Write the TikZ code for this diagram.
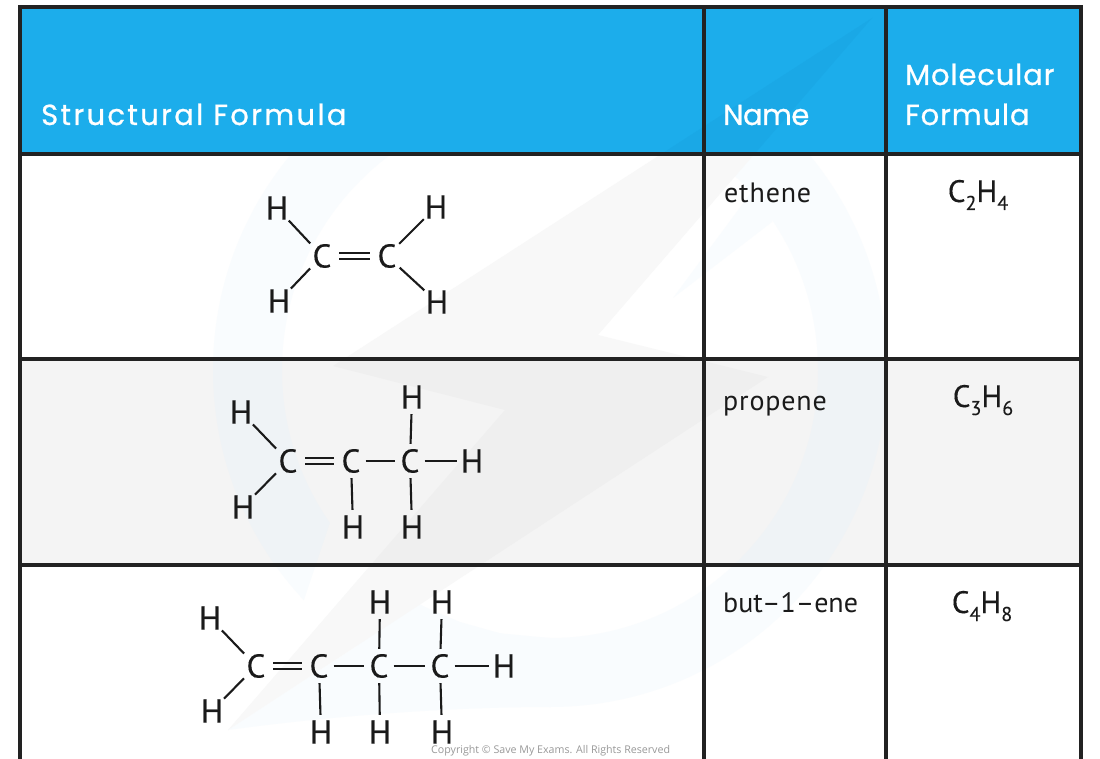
\documentclass[tikz,border=0pt]{standalone}
\usepackage{fontspec}
\setmainfont[FakeBold=0.25]{PT Sans}
\newfontfamily\hdfont[LetterSpace=3,FakeBold=0.8]{Poppins}
\newfontfamily\hdwide[LetterSpace=8,FakeBold=0.8]{Poppins}
\newfontfamily\hdtight[LetterSpace=-2,FakeBold=0.8]{Poppins}
\newfontfamily\bodyfont[LetterSpace=3]{PT Sans}
\newfontfamily\bodytight[LetterSpace=0]{PT Sans}
\newfontfamily\copyfont{Open Sans}
\definecolor{hdblue}{HTML}{1CADEB}
\definecolor{hdblueb}{HTML}{1AA8E6}
\definecolor{rule}{HTML}{222222}
\definecolor{rowgrey}{HTML}{F4F4F4}
\definecolor{wmring}{HTML}{F9FCFE}
\definecolor{wmringb}{HTML}{EFF3F6}
\definecolor{wmstar}{HTML}{F8F8F8}
\definecolor{wmstarb}{HTML}{EFEFEF}
\definecolor{inktext}{HTML}{1A1A1A}
\newcommand{\subnum}[1]{\raisebox{-8pt}{\fontsize{20}{20}\selectfont #1}}
\newcommand{\starpath}{(872,18) -- (598,335) -- (768,377) -- (228,730) -- (505,410) -- (333,366) -- cycle}
\newcommand{\ringpath}{(550,370) circle[radius=337] (550,370) circle[radius=268]}
\newcommand{\gappath}{(330,523) -- (303,603) -- (200,660) -- (228,730) -- (505,410) -- cycle}
\newcommand{\swooshpath}{(228,730) .. controls (330,716) and (450,707) .. (550,707) -- (550,638) -- (500,633.3) -- (460,622) -- (420,605) -- cycle}
\newcommand{\wedgepath}{(673,298) -- (772,222) -- (790,140) -- cycle}
\tikzset{
 x=1pt,y=-1pt,
 atom/.style={circle,inner sep=0pt,minimum size=34pt,font=\fontsize{33}{33}\selectfont,text=inktext},
 bond/.style={line width=2.1pt,draw=inktext},
 ccbond/.style={bond,shorten <=-2.5pt,shorten >=-2.5pt},
 dbl/.style={bond,transform canvas={yshift=#1}},
 grid/.style={line width=3.6pt,draw=rule},
 head/.style={anchor=base west,inner sep=0pt,text=white,font=\fontsize{29}{29}\selectfont},
 cellname/.style={anchor=base west,inner sep=0pt,text=inktext,font=\fontsize{28}{28}\selectfont},
 formula/.style={anchor=base,inner sep=0pt,text=inktext,font=\fontsize{31}{31}\selectfont},
}
\begin{document}
\begin{tikzpicture}
\useasboundingbox (0,0) rectangle (1100,759);
\fill[white] (0,0) rectangle (1100,759);
% backgrounds
\fill[rowgrey] (20,359) rectangle (1081,565);
\fill[hdblue] (20,7) rectangle (1081,154);
% watermark on white rows
\begin{scope}
\clip (20,154) rectangle (1081,759);
\fill[wmring,even odd rule] \ringpath;
\fill[white] \gappath;
\fill[wmring] \swooshpath;
\fill[wmring] \wedgepath;
\fill[wmstar] \starpath;
\end{scope}
% watermark on grey row
\begin{scope}
\clip (20,359) rectangle (1081,565);
\fill[rowgrey] (20,359) rectangle (1081,565);
\fill[wmringb,even odd rule] \ringpath;
\fill[rowgrey] \gappath;
\fill[wmstarb] \starpath;
\end{scope}
% watermark on header
\begin{scope}
\clip (20,7) rectangle (1081,154);
\fill[hdblueb] \starpath;
\end{scope}
% table grid
\draw[grid] (20,759) -- (20,7) -- (1081,7) -- (1081,759);
\draw[grid] (20,154) -- (1081,154);
\draw[grid] (20,359) -- (1081,359);
\draw[grid] (20,565) -- (1081,565);
\draw[grid] (704,7) -- (704,759);
\draw[grid] (886,7) -- (886,759);
% headers
\node[head] (hs) at (41,125) {\hdwide Structural Formula};
\node[head] (hn) at (723,125) {\hdtight Name};
\node[head] (hm1) at (905,85) {\hdfont Molecular};
\node[head] (hm2) at (905,125) {\hdfont Formula};
% cell text
\node[cellname] (n1) at (724,203) {\bodyfont ethene};
\node[cellname] (n2) at (723,410) {\bodyfont propene};
\node[cellname] (n3) at (723,612) {\bodytight but–1–ene};
\node[formula] (f1) at (978,202) {C\subnum{2}H\subnum{4}};
\node[formula] (f2) at (983,407) {C\subnum{3}H\subnum{6}};
\node[formula] (f3) at (982,613) {C\subnum{4}H\subnum{8}};
% ethene
\node[atom] (a1) at (322,256) {C};
\node[atom] (a2) at (387,256) {C};
\node[atom] (a3) at (277,208) {H};
\node[atom] (a4) at (279,301) {H};
\node[atom] (a5) at (436,207) {H};
\node[atom] (a6) at (437,302) {H};
\draw[dbl=3.2pt] (a1) -- (a2);
\draw[dbl=-3.2pt] (a1) -- (a2);
\draw[bond] (a1) -- (a3);
\draw[bond] (a1) -- (a4);
\draw[bond] (a2) -- (a5);
\draw[bond] (a2) -- (a6);
% propene
\node[atom] (b1) at (288,461) {C};
\node[atom] (b2) at (351,461) {C};
\node[atom] (b3) at (410,461) {C};
\node[atom] (b4) at (241,412) {H};
\node[atom] (b5) at (243,507) {H};
\node[atom] (b6) at (412,397) {H};
\node[atom] (b7) at (472,461) {H};
\node[atom] (b8) at (353,527) {H};
\node[atom] (b9) at (412,527) {H};
\draw[dbl=3.2pt] (b1) -- (b2);
\draw[dbl=-3.2pt] (b1) -- (b2);
\draw[ccbond] (b2) -- (b3);
\draw[ccbond] (b3) -- (b7);
\draw[bond] (b1) -- (b4);
\draw[bond] (b1) -- (b5);
\draw[bond] (b3) -- (b6);
\draw[bond] (b2) -- (b8);
\draw[bond] (b3) -- (b9);
% but-1-ene
\node[atom] (c1) at (256,666) {C};
\node[atom] (c2) at (319,666) {C};
\node[atom] (c3) at (379,666) {C};
\node[atom] (c4) at (440,666) {C};
\node[atom] (c5) at (210,618) {H};
\node[atom] (c6) at (212,711) {H};
\node[atom] (c7) at (380,602) {H};
\node[atom] (c8) at (442,602) {H};
\node[atom] (c9) at (504,666) {H};
\node[atom] (c10) at (321,732) {H};
\node[atom] (c11) at (380,732) {H};
\node[atom] (c12) at (442,732) {H};
\draw[dbl=3.2pt] (c1) -- (c2);
\draw[dbl=-3.2pt] (c1) -- (c2);
\draw[ccbond] (c2) -- (c3);
\draw[ccbond] (c3) -- (c4);
\draw[ccbond] (c4) -- (c9);
\draw[bond] (c1) -- (c5);
\draw[bond] (c1) -- (c6);
\draw[bond] (c3) -- (c7);
\draw[bond] (c4) -- (c8);
\draw[bond] (c2) -- (c10);
\draw[bond] (c3) -- (c11);
\draw[bond] (c4) -- (c12);
% copyright
\node[anchor=base west,inner sep=0pt,text=black!40,font=\copyfont\fontsize{10.65}{11}\selectfont] (cp) at (431,753) {Copyright © Save My Exams. All Rights Reserved};
\end{tikzpicture}
\end{document}
